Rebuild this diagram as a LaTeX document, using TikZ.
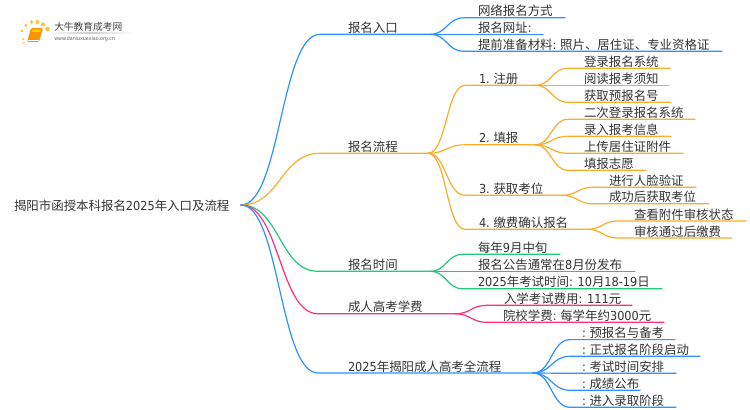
\documentclass[tikz,border=0pt]{standalone}
\usepackage{fontspec}
\setmainfont{Noto Sans CJK SC}
\newfontfamily\lt[FakeStretch=0.91]{DejaVu Sans}
\usetikzlibrary{calc}
\definecolor{cblue}{HTML}{2C92FF}
\definecolor{corange}{HTML}{FAAE28}
\definecolor{cgreen}{HTML}{22C87E}
\definecolor{cpink}{HTML}{FF2E7E}
\definecolor{ctext}{HTML}{333333}
\definecolor{cdot}{HTML}{FBC23C}
\tikzset{
  x=0.75pt,y=-0.75pt,
  bez/.style={to path={.. controls ($(\tikztostart)!.5!(\tikztotarget |- \tikztostart)$) and ($(\tikztotarget)!.5!(\tikztostart |- \tikztotarget)$) .. (\tikztotarget)}},
  branch/.style={line width=0.9pt,line cap=round},
  lbl/.style={anchor=base west,inner sep=0pt,outer sep=0pt,text=ctext,font=\fontsize{9.33pt}{11pt}\selectfont},
}
% name, parent junction, colour, curve end x, text x, line end x, y, text
\newcommand{\topic}[8]{%
  \coordinate (#1s) at (#4,#7+0.3);
  \coordinate (#1e) at (#6,#7+0.3);
  \node[lbl] (#1) at (#5,#7-1.6) {#8};
  \draw[branch,#3] (#2) to[bez] (#1s) -- (#1e);
}
\begin{document}
\begin{tikzpicture}
\useasboundingbox (0,0) rectangle (750,410);
\fill[white] (0,0) rectangle (750,410);
% logo
\foreach \px/\py/\r in {23/39/1.2,22/31/1.5,26/25.5/1.7,31.5/22/1.9,37.5/22/2,43/24.5/2.1,47.5/29/2.3,24/43/1}
  \fill[cdot] (\px,\py) circle (\r);
\begin{scope}
\fill[orange!85!yellow,rounded corners=1pt] (31,28) -- (43,28) -- (39,42) -- (27,42) -- cycle;
\fill[yellow!70!orange] (33,29.5) -- (41,29.5) -- (40,32) -- (32,32) -- cycle;
\draw[white,line width=0.4pt] (28,40) -- (38.5,40);
\end{scope}
\shade[left color=white,right color=white,middle color=black!20] (46,33) rectangle (133,33.8);
\node[anchor=base west,inner sep=0pt,text=black!75,font=\fontsize{7.3pt}{8pt}\selectfont] (logoa) at (54,31) {大牛教育成考网};
\node[anchor=base west,inner sep=0pt,text=black!60,font=\fontsize{3.9pt}{5pt}\selectfont] (logob) at (54,40.5) {\lt www.daniuxuexiao.org.cn};
% root
\node[lbl] (root) at (14,210.3) {揭阳市函授本科报名{\lt 2025}年入口及流程};
\coordinate (rj) at (241,205);
% level 1
\topic{a}{rj}{cblue}{320}{348}{430}{34}{报名入口}
\topic{b}{rj}{corange}{320}{348}{428}{153}{报名流程}
\topic{c}{rj}{cgreen}{318}{348}{430}{271}{报名时间}
\topic{d}{rj}{cpink}{318}{348}{455}{313.5}{成人高考学费}
\topic{e}{rj}{cblue}{318}{348}{533}{372.7}{{\lt 2025}年揭阳成人高考全流程}
% entry
\topic{a1}{ae}{cblue}{464}{478}{565}{17.5}{网络报名方式}
\topic{a2}{ae}{cblue}{464}{478}{543}{34}{报名网址{\lt :}}
\topic{a3}{ae}{cblue}{464}{478}{722}{51}{提前准备材料{\lt :} 照片、居住证、专业资格证}
% process
\topic{b1}{be}{corange}{465}{479}{535}{85}{{\lt 1.} 注册}
\topic{b2}{be}{corange}{465}{479}{535}{144.5}{{\lt 2.} 填报}
\topic{b3}{be}{corange}{465}{479}{562}{195}{{\lt 3.} 获取考位}
\topic{b4}{be}{corange}{465}{479}{587}{229}{{\lt 4.} 缴费确认报名}
\topic{b11}{b1e}{corange}{568}{584}{670}{68}{登录报名系统}
\topic{b12}{b1e}{corange}{568}{584}{669}{85}{阅读报考须知}
\topic{b13}{b1e}{corange}{568}{584}{671}{102}{获取预报名号}
\topic{b21}{b2e}{corange}{568}{584}{695}{119}{二次登录报名系统}
\topic{b22}{b2e}{corange}{568}{584}{671}{136}{录入报考信息}
\topic{b23}{b2e}{corange}{568}{584}{683}{153}{上传居住证附件}
\topic{b24}{b2e}{corange}{568}{584}{646}{170}{填报志愿}
\topic{b31}{b3e}{corange}{593}{609}{696}{187}{进行人脸验证}
\topic{b32}{b3e}{corange}{593}{609}{709}{203.5}{成功后获取考位}
\topic{b41}{b4e}{corange}{618}{634}{746}{220.7}{查看附件审核状态}
\topic{b42}{b4e}{corange}{618}{634}{732}{237.7}{审核通过后缴费}
% time
\topic{c1}{ce}{cgreen}{463}{478}{560}{254}{每年{\lt 9}月中旬}
\topic{c2}{ce}{cgreen}{463}{478}{635}{271}{报名公告通常在{\lt 8}月份发布}
\topic{c3}{ce}{cgreen}{463}{478}{662}{288.5}{{\lt 2025}年考试时间{\lt : 10}月{\lt 18-19}日}
% fee
\topic{d1}{de}{cpink}{487}{504}{632}{305}{入学考试费用{\lt : 111}元}
\topic{d2}{de}{cpink}{487}{503}{664}{322}{院校学费{\lt :} 每学年约{\lt 3000}元}
% full process
\topic{e1}{ee}{cblue}{570}{582}{675}{339.3}{{\lt :} 预报名与备考}
\topic{e2}{ee}{cblue}{570}{582}{700}{356}{{\lt :} 正式报名阶段启动}
\topic{e3}{ee}{cblue}{570}{582}{676}{373}{{\lt :} 考试时间安排}
\topic{e4}{ee}{cblue}{570}{582}{640}{390}{{\lt :} 成绩公布}
\topic{e5}{ee}{cblue}{570}{582}{676}{407}{{\lt :} 进入录取阶段}
\end{tikzpicture}
\end{document}
